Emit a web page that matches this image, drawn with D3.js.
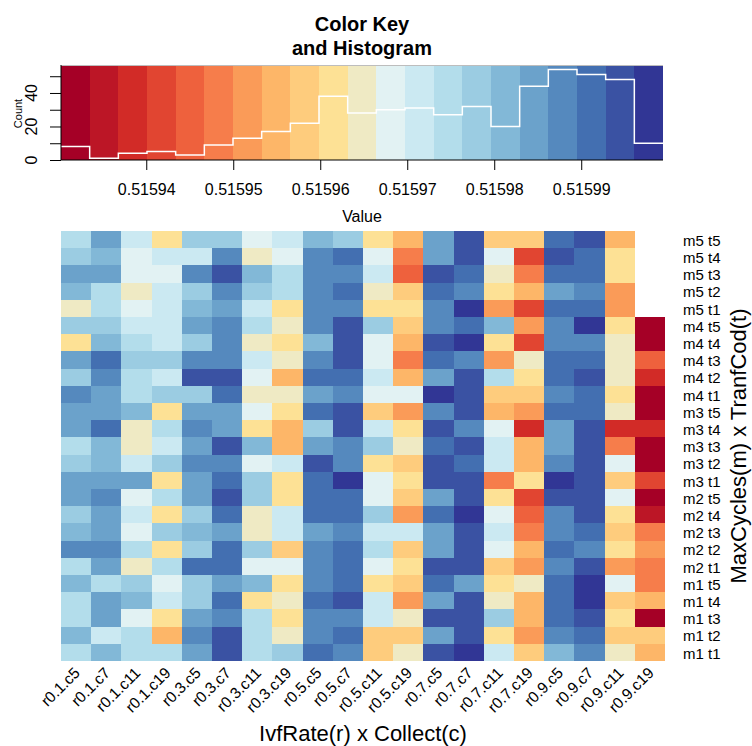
<!DOCTYPE html>
<html>
<head>
<meta charset="utf-8">
<script src="https://cdn.jsdelivr.net/npm/d3@7"></script>
<style>
  body { margin: 0; background: #fff; }
  svg { display: block; }
  text { font-family: "Liberation Sans", Arial, Helvetica, sans-serif; fill: #000; }
</style>
</head>
<body>
<svg id="chart" width="752" height="746"></svg>
<script>
// Column categories: IvfRate (r) x Collect (c)
const colLabels = [
  "r0.1.c5", "r0.1.c7", "r0.1.c11", "r0.1.c19",
  "r0.3.c5", "r0.3.c7", "r0.3.c11", "r0.3.c19",
  "r0.5.c5", "r0.5.c7", "r0.5.c11", "r0.5.c19",
  "r0.7.c5", "r0.7.c7", "r0.7.c11", "r0.7.c19",
  "r0.9.c5", "r0.9.c7", "r0.9.c11", "r0.9.c19"
];

// Row categories: MaxCycles (m) x TranfCod (t), top to bottom
const rowLabels = [
  "m5 t5", "m5 t4", "m5 t3", "m5 t2", "m5 t1",
  "m4 t5", "m4 t4", "m4 t3", "m4 t2", "m4 t1",
  "m3 t5", "m3 t4", "m3 t3", "m3 t2", "m3 t1",
  "m2 t5", "m2 t4", "m2 t3", "m2 t2", "m2 t1",
  "m1 t5", "m1 t4", "m1 t3", "m1 t2", "m1 t1"
];

// Cell values, one array per row (same order as rowLabels), null = missing
const cellValues = [
  [0.5159747,0.5159846,0.5159714,0.5159615,0.5159780,0.5159780,0.5159681,0.5159714,0.5159813,0.5159780,0.5159615,0.5159549,0.5159846,0.5159945,0.5159582,0.5159582,0.5159912,0.5159945,0.5159549,null],
  [0.5159780,0.5159813,0.5159681,0.5159714,0.5159714,0.5159879,0.5159648,0.5159681,0.5159879,0.5159912,0.5159681,0.5159483,0.5159846,0.5159945,0.5159681,0.5159417,0.5159945,0.5159912,0.5159615,null],
  [0.5159846,0.5159846,0.5159681,0.5159681,0.5159879,0.5159945,0.5159813,0.5159747,0.5159879,0.5159879,0.5159714,0.5159450,0.5159945,0.5159912,0.5159648,0.5159483,0.5159912,0.5159912,0.5159615,null],
  [0.5159813,0.5159747,0.5159648,0.5159714,0.5159780,0.5159879,0.5159780,0.5159747,0.5159879,0.5159912,0.5159648,0.5159582,0.5159912,0.5159879,0.5159615,0.5159549,0.5159846,0.5159879,0.5159516,null],
  [0.5159648,0.5159747,0.5159681,0.5159714,0.5159813,0.5159846,0.5159714,0.5159615,0.5159879,0.5159879,0.5159615,0.5159615,0.5159879,0.5159994,0.5159516,0.5159417,0.5159912,0.5159912,0.5159516,null],
  [0.5159780,0.5159780,0.5159714,0.5159714,0.5159846,0.5159879,0.5159747,0.5159648,0.5159879,0.5159945,0.5159780,0.5159582,0.5159879,0.5159912,0.5159813,0.5159516,0.5159879,0.5159978,0.5159615,0.5159318],
  [0.5159615,0.5159813,0.5159747,0.5159714,0.5159780,0.5159879,0.5159648,0.5159615,0.5159813,0.5159945,0.5159681,0.5159549,0.5159945,0.5159978,0.5159615,0.5159417,0.5159879,0.5159879,0.5159648,0.5159302],
  [0.5159846,0.5159912,0.5159780,0.5159780,0.5159879,0.5159879,0.5159714,0.5159648,0.5159879,0.5159945,0.5159681,0.5159483,0.5159912,0.5159879,0.5159516,0.5159648,0.5159912,0.5159912,0.5159648,0.5159450],
  [0.5159780,0.5159879,0.5159747,0.5159714,0.5159945,0.5159945,0.5159681,0.5159549,0.5159912,0.5159912,0.5159714,0.5159549,0.5159846,0.5159945,0.5159747,0.5159615,0.5159912,0.5159945,0.5159648,0.5159384],
  [0.5159879,0.5159846,0.5159747,0.5159780,0.5159780,0.5159912,0.5159648,0.5159648,0.5159846,0.5159879,0.5159681,0.5159681,0.5159978,0.5159945,0.5159582,0.5159582,0.5159879,0.5159912,0.5159615,0.5159318],
  [0.5159846,0.5159846,0.5159813,0.5159615,0.5159846,0.5159846,0.5159681,0.5159615,0.5159912,0.5159945,0.5159582,0.5159516,0.5159879,0.5159945,0.5159549,0.5159516,0.5159912,0.5159912,0.5159648,0.5159318],
  [0.5159846,0.5159912,0.5159648,0.5159747,0.5159879,0.5159846,0.5159615,0.5159549,0.5159780,0.5159945,0.5159714,0.5159615,0.5159945,0.5159879,0.5159681,0.5159384,0.5159846,0.5159945,0.5159384,0.5159384],
  [0.5159747,0.5159813,0.5159648,0.5159714,0.5159846,0.5159945,0.5159813,0.5159549,0.5159846,0.5159879,0.5159780,0.5159648,0.5159912,0.5159945,0.5159714,0.5159549,0.5159846,0.5159945,0.5159483,0.5159318],
  [0.5159780,0.5159813,0.5159714,0.5159780,0.5159879,0.5159879,0.5159681,0.5159714,0.5159945,0.5159879,0.5159615,0.5159582,0.5159945,0.5159912,0.5159714,0.5159549,0.5159879,0.5159945,0.5159681,0.5159318],
  [0.5159846,0.5159846,0.5159846,0.5159615,0.5159846,0.5159912,0.5159780,0.5159615,0.5159912,0.5159978,0.5159681,0.5159615,0.5159945,0.5159945,0.5159483,0.5159615,0.5159978,0.5159945,0.5159582,0.5159417],
  [0.5159846,0.5159879,0.5159681,0.5159747,0.5159846,0.5159945,0.5159780,0.5159615,0.5159912,0.5159912,0.5159681,0.5159582,0.5159846,0.5159945,0.5159615,0.5159417,0.5159945,0.5159945,0.5159681,0.5159318],
  [0.5159780,0.5159846,0.5159714,0.5159615,0.5159780,0.5159912,0.5159648,0.5159714,0.5159912,0.5159912,0.5159780,0.5159516,0.5159912,0.5159978,0.5159681,0.5159450,0.5159879,0.5159945,0.5159615,0.5159351],
  [0.5159813,0.5159846,0.5159681,0.5159780,0.5159813,0.5159846,0.5159648,0.5159714,0.5159846,0.5159879,0.5159714,0.5159714,0.5159846,0.5159945,0.5159714,0.5159483,0.5159879,0.5159912,0.5159582,0.5159483],
  [0.5159879,0.5159879,0.5159747,0.5159615,0.5159780,0.5159912,0.5159780,0.5159582,0.5159879,0.5159912,0.5159747,0.5159582,0.5159846,0.5159945,0.5159681,0.5159549,0.5159912,0.5159879,0.5159615,0.5159516],
  [0.5159747,0.5159846,0.5159648,0.5159747,0.5159912,0.5159912,0.5159681,0.5159681,0.5159879,0.5159912,0.5159681,0.5159615,0.5159945,0.5159945,0.5159582,0.5159516,0.5159879,0.5159945,0.5159516,0.5159483],
  [0.5159813,0.5159747,0.5159780,0.5159681,0.5159780,0.5159846,0.5159813,0.5159615,0.5159879,0.5159912,0.5159615,0.5159582,0.5159912,0.5159846,0.5159615,0.5159648,0.5159912,0.5159978,0.5159681,0.5159483],
  [0.5159747,0.5159846,0.5159813,0.5159714,0.5159780,0.5159912,0.5159615,0.5159648,0.5159912,0.5159945,0.5159714,0.5159516,0.5159846,0.5159945,0.5159648,0.5159549,0.5159912,0.5159978,0.5159582,0.5159549],
  [0.5159747,0.5159846,0.5159681,0.5159615,0.5159846,0.5159879,0.5159747,0.5159615,0.5159879,0.5159879,0.5159714,0.5159648,0.5159945,0.5159945,0.5159780,0.5159549,0.5159912,0.5159945,0.5159615,0.5159318],
  [0.5159813,0.5159714,0.5159747,0.5159549,0.5159879,0.5159945,0.5159747,0.5159648,0.5159879,0.5159912,0.5159582,0.5159582,0.5159846,0.5159945,0.5159615,0.5159516,0.5159879,0.5159912,0.5159582,0.5159582],
  [0.5159747,0.5159813,0.5159747,0.5159747,0.5159846,0.5159945,0.5159747,0.5159780,0.5159912,0.5159879,0.5159582,0.5159648,0.5159945,0.5159978,0.5159714,0.5159582,0.5159813,0.5159879,0.5159648,0.5159549]
];

// Colour key axis ticks
const keyTicks = [0.51594, 0.51595, 0.51596, 0.51597, 0.51598, 0.51599];
const countTicks = [0, 10, 20, 30, 40, 50];
const countTickLabels = [0, 20, 40];

// RdYlBu anchor colours, stretched to 21 bins
const paletteAnchors = ["#a50026", "#d73027", "#f46d43", "#fdae61", "#fee090",
                        "#e0f3f8", "#abd9e9", "#74add1", "#4575b4", "#313695"];
const nColors = 21;

const svg = d3.select("#chart");

// ----- breaks, colours and histogram counts -----
const allVals = cellValues.flat().filter(v => v != null);
const [vMin, vMax] = d3.extent(allVals);
const binW = (vMax - vMin) / nColors;
const breaks = d3.range(nColors + 1).map(i => vMin + i * binW);
const colors = d3.quantize(d3.piecewise(d3.interpolateRgb, paletteAnchors), nColors);
const binOf = v => Math.max(0, Math.min(nColors - 1, Math.floor((v - vMin) / binW)));
const counts = new Array(nColors).fill(0);
allVals.forEach(v => counts[binOf(v)]++);

// ----- colour key with histogram -----
const key = { left: 61, right: 663, top: 65, bottom: 160 };
const kx = d3.scaleLinear().domain([vMin, vMax]).range([key.left, key.right]);
const ky = d3.scaleLinear().domain([0, d3.max(counts) * 1.05]).range([key.bottom, key.top]);

const keyG = svg.append("g");
keyG.selectAll("rect.band")
  .data(colors)
  .join("rect")
  .attr("class", "band")
  .attr("x", (c, i) => kx(breaks[i]))
  .attr("y", key.top)
  .attr("width", (c, i) => kx(breaks[i + 1]) - kx(breaks[i]) + 0.3)
  .attr("height", key.bottom - key.top)
  .attr("fill", c => c)
  .attr("shape-rendering", "crispEdges");

// frame: light top edge, dark left and bottom edges
keyG.append("line")
  .attr("x1", key.left).attr("x2", key.right)
  .attr("y1", key.top + 0.5).attr("y2", key.top + 0.5)
  .attr("stroke", "#bdbdbd").attr("stroke-width", 1);

// histogram as a white step line
const stepPts = counts.map((c, i) => [breaks[i], c]);
stepPts.push([breaks[nColors], counts[nColors - 1]]);
keyG.append("path")
  .datum(stepPts)
  .attr("fill", "none")
  .attr("stroke", "#fff")
  .attr("stroke-width", 1.5)
  .attr("d", d3.line().x(d => kx(d[0])).y(d => ky(d[1])).curve(d3.curveStepAfter));

// x axis of the key
const xAxisG = keyG.append("g")
  .attr("transform", `translate(0,${key.bottom})`)
  .call(d3.axisBottom(kx).tickValues(keyTicks).tickFormat(d3.format(".5f"))
    .tickSize(10).tickSizeOuter(0).tickPadding(14));
xAxisG.select(".domain").remove();
xAxisG.selectAll("text").attr("font-size", 16).attr("font-family", null);
xAxisG.selectAll("line").attr("stroke-width", 1);
keyG.append("line")
  .attr("x1", key.left).attr("x2", key.right)
  .attr("y1", key.bottom).attr("y2", key.bottom)
  .attr("stroke", "#000");

// y axis of the key
const yAxisG = keyG.append("g")
  .attr("transform", `translate(${key.left},0)`)
  .call(d3.axisLeft(ky).tickValues(countTicks).tickFormat("").tickSize(11).tickSizeOuter(0));
yAxisG.select(".domain").remove();
keyG.append("line")
  .attr("x1", key.left).attr("x2", key.left)
  .attr("y1", key.top).attr("y2", key.bottom)
  .attr("stroke", "#000");
keyG.selectAll("text.ylab")
  .data(countTickLabels)
  .join("text")
  .attr("class", "ylab")
  .attr("transform", d => `translate(36.5,${ky(d)}) rotate(-90)`)
  .attr("text-anchor", "middle")
  .attr("font-size", 16)
  .text(d => d);

keyG.append("text")
  .attr("transform", `translate(21.5,${(key.top + key.bottom) / 2 + 1}) rotate(-90)`)
  .attr("text-anchor", "middle")
  .attr("font-size", 11)
  .text("Count");

keyG.append("text")
  .attr("x", 362).attr("y", 222)
  .attr("text-anchor", "middle")
  .attr("font-size", 16)
  .text("Value");

// title
svg.append("text")
  .attr("x", 362).attr("y", 31)
  .attr("text-anchor", "middle")
  .attr("font-size", 20).attr("font-weight", "bold")
  .text("Color Key");
svg.append("text")
  .attr("x", 362).attr("y", 55)
  .attr("text-anchor", "middle")
  .attr("font-size", 20).attr("font-weight", "bold")
  .text("and Histogram");

// ----- heatmap -----
const xBand = d3.scaleBand().domain(colLabels).range([61, 665]);
const yBand = d3.scaleBand().domain(rowLabels).range([231, 661]);

const cells = [];
cellValues.forEach((row, ri) => row.forEach((v, ci) => {
  if (v != null) cells.push({ row: rowLabels[ri], col: colLabels[ci], v });
}));

svg.append("g")
  .selectAll("rect")
  .data(cells)
  .join("rect")
  .attr("x", d => xBand(d.col))
  .attr("y", d => yBand(d.row))
  .attr("width", xBand.bandwidth() + 0.4)
  .attr("height", yBand.bandwidth() + 0.4)
  .attr("fill", d => colors[binOf(d.v)])
  .attr("shape-rendering", "crispEdges");

// column labels, rotated 45 degrees
svg.append("g")
  .selectAll("text")
  .data(colLabels)
  .join("text")
  .attr("transform", d => `translate(${xBand(d) + xBand.bandwidth() / 2 + 1},670) rotate(-45)`)
  .attr("text-anchor", "end")
  .attr("dy", "0.35em")
  .attr("font-size", 15.5)
  .text(d => d);

// row labels
svg.append("g")
  .selectAll("text")
  .data(rowLabels)
  .join("text")
  .attr("x", 683)
  .attr("y", d => yBand(d) + yBand.bandwidth() / 2 + 1)
  .attr("dy", "0.35em")
  .attr("font-size", 15)
  .text(d => d);

// axis titles
svg.append("text")
  .attr("x", 363).attr("y", 741)
  .attr("text-anchor", "middle")
  .attr("font-size", 22)
  .text("IvfRate(r) x Collect(c)");
svg.append("text")
  .attr("transform", `translate(746,${(231 + 661) / 2}) rotate(-90)`)
  .attr("text-anchor", "middle")
  .attr("font-size", 22)
  .text("MaxCycles(m) x TranfCod(t)");
</script>
</body>
</html>
